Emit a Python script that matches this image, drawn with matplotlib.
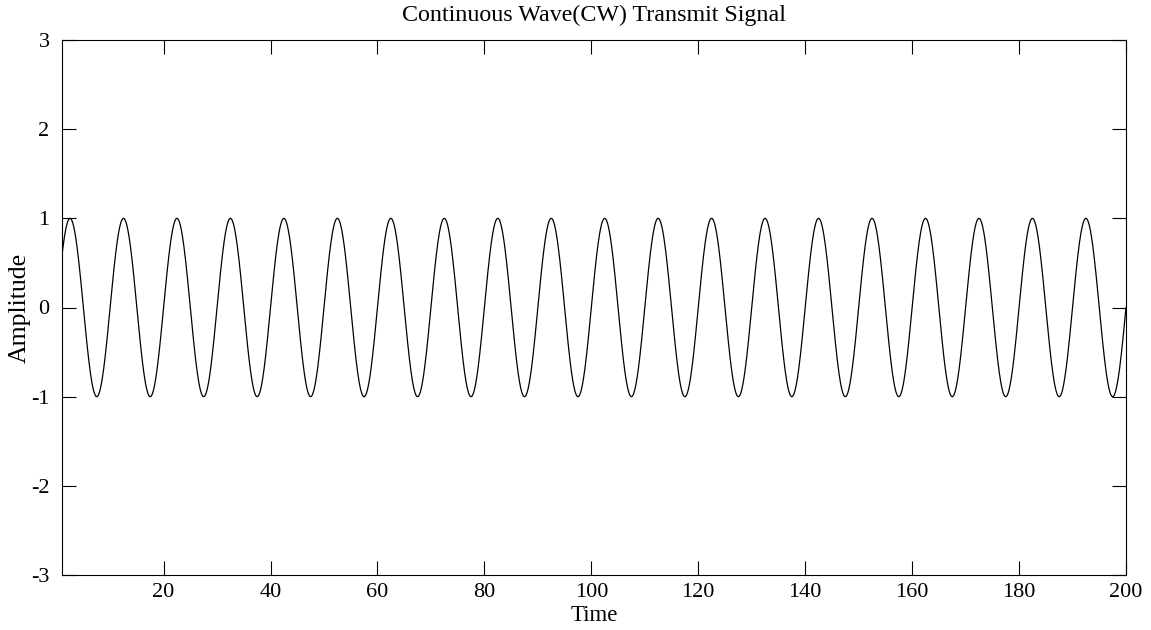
import matplotlib
matplotlib.use("Agg")
import matplotlib.pyplot as plt
import numpy as np

# signal parameters: period 10, amplitude 1, zero at t=200
amplitude = 1.0
freq = 0.1
t_start, t_end, t_step = 1, 200, 0.05

x_ticks = [20, 40, 60, 80, 100, 120, 140, 160, 180, 200]
y_ticks = [-3, -2, -1, 0, 1, 2, 3]

t = np.arange(t_start, t_end + t_step / 2, t_step)
y = amplitude * np.sin(2 * np.pi * freq * t)

plt.rcParams['font.family'] = ['Liberation Serif', 'DejaVu Serif']

fig = plt.figure(figsize=(11.51, 6.30), dpi=100)
ax = fig.add_axes([62 / 1151, 1 - 575 / 630, (1126 - 62) / 1151, (575 - 40) / 630])
ax.plot(t, y, color='black', linewidth=0.9)

ax.set_xlim(t_start, t_end)
ax.set_ylim(-3, 3)
ax.set_xticks(x_ticks)
ax.set_yticks(y_ticks)
ax.set_yticklabels([str(v) for v in y_ticks])
ax.tick_params(direction='in', length=10, width=0.8, top=True, right=True,
               labelsize=16)
ax.tick_params(axis='x', pad=6)
ax.tick_params(axis='y', pad=9)
for s in ax.spines.values():
    s.set_linewidth(0.8)

ax.set_title('Continuous Wave(CW) Transmit Signal', fontsize=17.3, pad=14)
ax.set_xlabel('Time', fontsize=16.5, labelpad=2)
ax.set_ylabel('Amplitude', fontsize=18.5, labelpad=0)

fig.savefig('out.png', dpi=100)
